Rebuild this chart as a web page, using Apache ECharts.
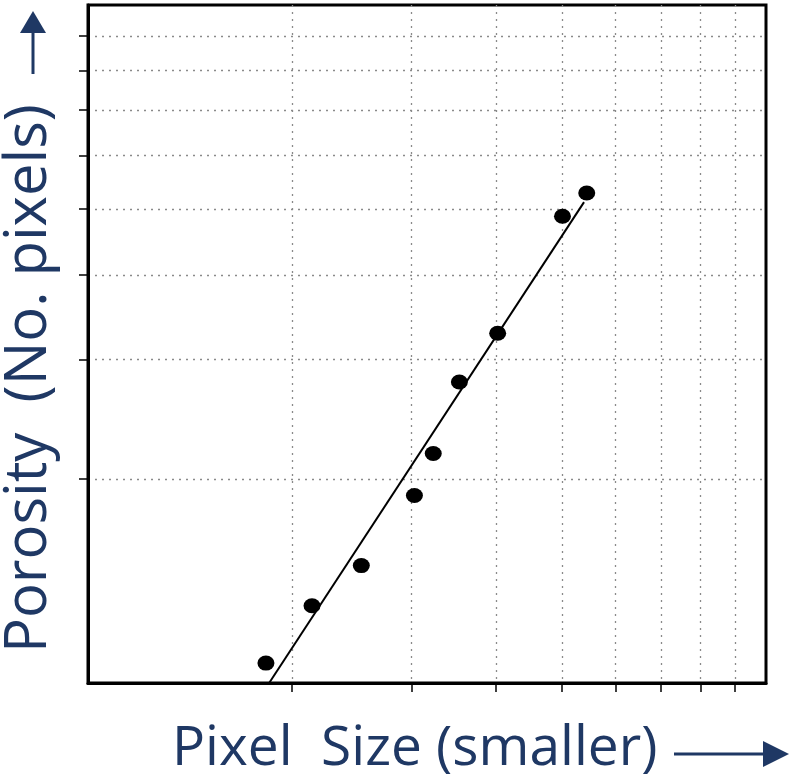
<!DOCTYPE html>
<html>
<head>
<meta charset="utf-8">
<script src="https://cdn.jsdelivr.net/npm/echarts@6/dist/echarts.min.js"></script>
<style>
  html, body { margin: 0; padding: 0; background: #ffffff; }
  #chart { width: 790px; height: 776px; }
</style>
</head>
<body>
<div id="chart"></div>
<script>
// Measured points (log-log), pixel size vs. porosity count
const pixelSize = [1.83, 2.14, 2.53, 3.03, 3.23, 3.53, 4.02, 5.01, 5.44];
const porosity  = [1.07, 1.30, 1.49, 1.89, 2.18, 2.78, 3.28, 4.88, 5.28];

// Straight fit line through the points, end to end
const fitSize     = [1.85, 5.39];
const fitPorosity = [1.00, 5.12];

// Intermediate decade values that carry ticks and dotted grid lines
const gridValues = [2, 3, 4, 5, 6, 7, 8, 9];

const xTitle = 'Pixel  Size (smaller)';
const yTitle = 'Porosity  (No. pixels)';

const ink = '#1f3864';
const xTitleFont = '55px "Open Sans", Lato, sans-serif';
const yTitleFont = '58px "Open Sans", Lato, sans-serif';

const chart = echarts.init(document.getElementById('chart'), null, { renderer: 'canvas' });

function logAxis() {
  return {
    type: 'log',
    logBase: 10,
    min: 1,
    max: 10,
    axisLine: { show: true, lineStyle: { color: '#000', width: 3 } },
    axisTick: {
      show: true,
      inside: false,
      length: 9,
      customValues: gridValues,
      lineStyle: { color: '#000', width: 1.5 }
    },
    axisLabel: { show: false },
    minorTick: { show: false },
    splitLine: {
      show: true,
      lineStyle: { color: '#8a8a8a', width: 1.3, type: [2, 5] }
    }
  };
}

chart.setOption({
  animation: false,
  backgroundColor: '#ffffff',
  grid: {
    left: 88,
    right: 24,
    top: 5,
    bottom: 93,
    show: true,
    borderColor: '#000',
    borderWidth: 3,
    outerBoundsMode: 'none'
  },
  xAxis: logAxis(),
  yAxis: logAxis(),
  series: [
    {
      type: 'line',
      data: fitSize.map((x, i) => [x, fitPorosity[i]]),
      showSymbol: false,
      symbol: 'none',
      lineStyle: { color: '#000', width: 2 },
      z: 3
    },
    {
      type: 'scatter',
      data: pixelSize.map((x, i) => [x, porosity[i]]),
      symbol: 'circle',
      symbolSize: [17, 15],
      itemStyle: { color: '#000', opacity: 1 },
      z: 4
    }
  ],
  graphic: [
    {
      type: 'text',
      x: 172,
      y: 749,
      style: { text: xTitle, x: 0, y: 0, align: 'left', verticalAlign: 'middle', font: xTitleFont, fill: ink }
    },
    {
      type: 'line',
      shape: { x1: 674, y1: 754, x2: 768, y2: 754 },
      style: { stroke: ink, lineWidth: 3 }
    },
    {
      type: 'polygon',
      shape: { points: [[763, 741], [789, 754], [763, 767]] },
      style: { fill: ink }
    },
    {
      type: 'text',
      x: 29,
      y: 653,
      rotation: Math.PI / 2,
      style: { text: yTitle, x: 0, y: 0, align: 'left', verticalAlign: 'middle', font: yTitleFont, fill: ink }
    },
    {
      type: 'line',
      shape: { x1: 33, y1: 74, x2: 33, y2: 30 },
      style: { stroke: ink, lineWidth: 3 }
    },
    {
      type: 'polygon',
      shape: { points: [[20, 33], [33, 11], [46, 33]] },
      style: { fill: ink }
    }
  ]
});
</script>
</body>
</html>
